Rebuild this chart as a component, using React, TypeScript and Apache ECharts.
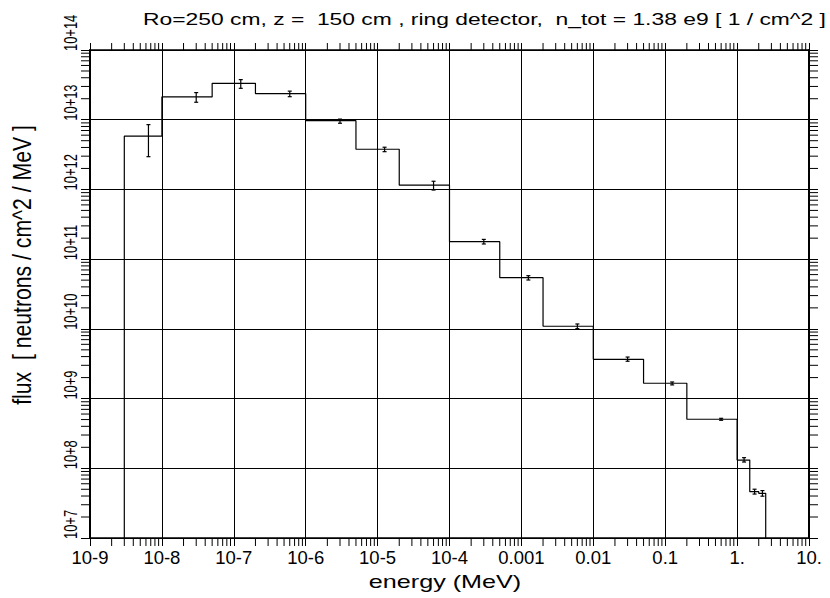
import React, { useEffect, useRef } from 'react';
import * as echarts from 'echarts';

// Energy bin edges (MeV)
const binEdges = [3e-9, 1e-8, 5e-8, 2e-7, 1e-6, 5e-6, 2e-5, 1e-4, 5e-4, 2e-3, 1e-2, 5e-2, 0.2, 1.0, 1.5, 2.0, 2.5];
// Flux per bin (neutrons / cm^2 / MeV)
const flux = [5.8e12, 2.12e13, 3.33e13, 2.37e13, 9.7e12, 3.77e12, 1.15e12, 1.78e11, 5.42e10, 1.09e10, 3.66e9, 1.66e9, 5.05e8, 1.31e8, 4.62e7, 4.38e7];
// Error bar lower / upper bounds
const fluxLow = [2.95e12, 1.78e13, 2.82e13, 2.14e13, 8.9e12, 3.48e12, 9.8e11, 1.65e11, 5.02e10, 1.007e10, 3.43e9, 1.57e9, 4.88e8, 1.23e8, 4.27e7, 3.98e7];
const fluxHigh = [8.5e12, 2.45e13, 3.76e13, 2.57e13, 1.02e13, 4.03e12, 1.31e12, 1.92e11, 5.79e10, 1.175e10, 3.94e9, 1.73e9, 5.21e8, 1.42e8, 5.01e7, 4.79e7];

const xTickLabels = ['10-9', '10-8', '10-7', '10-6', '10-5', '10-4', '0.001', '0.01', '0.1', '1.', '10.'];
const yTickLabels = ['10+7', '10+8', '10+9', '10+10', '10+11', '10+12', '10+13', '10+14'];

const titleText = 'Ro=250 cm, z =  150 cm , ring detector,  n_tot = 1.38 e9 [ 1 / cm^2 ]';
const xName = 'energy (MeV)';
const yName = 'flux  [ neutrons / cm^2 / MeV ]';

const X_MIN = -9;
const X_MAX = 1;
const Y_MIN = 7;
const Y_MAX = 14;

const FONT = '"Liberation Sans", Arial, Helvetica, sans-serif';

export default function App() {
  const ref = useRef<HTMLDivElement>(null);

  useEffect(() => {
    const chart = echarts.init(ref.current as HTMLDivElement, null, { renderer: 'svg' });
    const L = Math.log10;

    const steps: number[][] = [];
    steps.push([L(binEdges[0]), Y_MIN]);
    for (let i = 0; i < flux.length; i++) {
      steps.push([L(binEdges[i]), L(flux[i])]);
      steps.push([L(binEdges[i + 1]), L(flux[i])]);
    }
    steps.push([L(binEdges[binEdges.length - 1]), Y_MIN]);

    const errData = flux.map((_, i) => [
      L((binEdges[i] + binEdges[i + 1]) / 2),
      L(fluxLow[i]),
      L(fluxHigh[i]),
    ]);

    const xMinor: number[][] = [];
    for (let d = X_MIN; d < X_MAX; d++) {
      for (let k = 2; k <= 9; k++) xMinor.push([d + L(k), Y_MIN]);
    }
    const yMinor: number[][] = [];
    for (let d = Y_MIN; d < Y_MAX; d++) {
      for (let k = 2; k <= 9; k++) yMinor.push([X_MIN, d + L(k)]);
    }
    const yLabelData = yTickLabels.map((_, i) => [X_MIN, Y_MIN + i]);

    const tickStyle = { stroke: '#000', lineWidth: 1 };

    const option: any = {
      animation: false,
      backgroundColor: '#fff',
      textStyle: { fontFamily: FONT, color: '#000' },
      grid: { left: 90, right: 21, top: 50, bottom: 60, containLabel: false, outerBoundsMode: 'none' },
      xAxis: [
        {
          type: 'value',
          position: 'bottom',
          min: X_MIN,
          max: X_MAX,
          interval: 1,
          axisLine: { show: true, onZero: false, lineStyle: { color: '#000', width: 1.5 } },
          axisTick: { show: true, inside: false, length: 8, lineStyle: { color: '#000', width: 1 } },
          axisLabel: {
            show: true,
            margin: 10,
            fontSize: 18.5,
            fontFamily: FONT,
            color: '#000',
            formatter: (v: number) => xTickLabels[Math.round(v - X_MIN)] ?? '',
          },
          splitLine: { show: true, lineStyle: { color: '#000', width: 1 } },
        },
        {
          type: 'value',
          position: 'top',
          min: X_MIN,
          max: X_MAX,
          interval: 1,
          axisLine: { show: true, onZero: false, lineStyle: { color: '#000', width: 1.5 } },
          axisTick: { show: true, inside: false, length: 7, lineStyle: { color: '#000', width: 1 } },
          axisLabel: { show: false },
          splitLine: { show: false },
        },
      ],
      yAxis: [
        {
          type: 'value',
          position: 'left',
          min: Y_MIN,
          max: Y_MAX,
          interval: 1,
          axisLine: { show: true, onZero: false, lineStyle: { color: '#000', width: 2 } },
          axisTick: { show: true, inside: false, length: 9, lineStyle: { color: '#000', width: 1 } },
          axisLabel: { show: false },
          splitLine: { show: true, lineStyle: { color: '#000', width: 1 } },
        },
        {
          type: 'value',
          position: 'right',
          min: Y_MIN,
          max: Y_MAX,
          interval: 1,
          axisLine: { show: true, onZero: false, lineStyle: { color: '#000', width: 2 } },
          axisTick: { show: true, inside: false, length: 9, lineStyle: { color: '#000', width: 1 } },
          axisLabel: { show: false },
          splitLine: { show: false },
        },
      ],
      graphic: [
        {
          type: 'text',
          x: 143,
          y: 19,
          scaleX: 1.345,
          style: { text: titleText, fontSize: 17, fontFamily: FONT, fill: '#000', align: 'left', verticalAlign: 'middle' },
        },
        {
          type: 'text',
          x: 445,
          y: 582,
          scaleX: 1.4,
          style: { text: xName, fontSize: 18, fontFamily: FONT, fill: '#000', align: 'center', verticalAlign: 'middle' },
        },
        {
          type: 'text',
          x: 22,
          y: 265,
          rotation: Math.PI / 2,
          scaleX: 1.06,
          scaleY: 1.3,
          style: { text: yName, fontSize: 20, fontFamily: FONT, fill: '#000', align: 'center', verticalAlign: 'middle' },
        },
      ],
      series: [
        {
          type: 'line',
          xAxisIndex: 0,
          yAxisIndex: 0,
          data: steps,
          symbol: 'none',
          showSymbol: false,
          lineStyle: { color: '#000', width: 1.2 },
          z: 5,
          silent: true,
        },
        {
          type: 'custom',
          xAxisIndex: 0,
          yAxisIndex: 0,
          data: errData,
          encode: { x: 0, y: [1, 2] },
          clip: false,
          silent: true,
          z: 6,
          renderItem: (params: any, api: any) => {
            const x = api.value(0);
            const pLo = api.coord([x, api.value(1)]);
            const pHi = api.coord([x, api.value(2)]);
            const c = 2;
            const st = { stroke: '#000', lineWidth: 1.2 };
            return {
              type: 'group',
              children: [
                { type: 'line', shape: { x1: pLo[0], y1: pLo[1], x2: pHi[0], y2: pHi[1] }, style: st },
                { type: 'line', shape: { x1: pLo[0] - c, y1: pLo[1], x2: pLo[0] + c, y2: pLo[1] }, style: st },
                { type: 'line', shape: { x1: pHi[0] - c, y1: pHi[1], x2: pHi[0] + c, y2: pHi[1] }, style: st },
              ],
            };
          },
        },
        {
          type: 'custom',
          xAxisIndex: 0,
          yAxisIndex: 0,
          data: xMinor,
          encode: { x: 0, y: 1 },
          clip: false,
          silent: true,
          renderItem: (params: any, api: any) => {
            const cs = params.coordSys;
            const px = api.coord([api.value(0), Y_MIN])[0];
            return {
              type: 'group',
              children: [
                { type: 'line', shape: { x1: px, y1: cs.y + cs.height, x2: px, y2: cs.y + cs.height + 8 }, style: tickStyle },
                { type: 'line', shape: { x1: px, y1: cs.y, x2: px, y2: cs.y - 7 }, style: tickStyle },
              ],
            };
          },
        },
        {
          type: 'custom',
          xAxisIndex: 0,
          yAxisIndex: 0,
          data: yMinor,
          encode: { x: 0, y: 1 },
          clip: false,
          silent: true,
          renderItem: (params: any, api: any) => {
            const cs = params.coordSys;
            const py = api.coord([X_MIN, api.value(1)])[1];
            return {
              type: 'group',
              children: [
                { type: 'line', shape: { x1: cs.x - 9, y1: py, x2: cs.x, y2: py }, style: tickStyle },
                { type: 'line', shape: { x1: cs.x + cs.width, y1: py, x2: cs.x + cs.width + 9, y2: py }, style: tickStyle },
              ],
            };
          },
        },
        {
          // y-axis tick labels (rotated, drawn at the axis scale positions)
          type: 'custom',
          xAxisIndex: 0,
          yAxisIndex: 0,
          data: yLabelData,
          encode: { x: 0, y: 1 },
          clip: false,
          silent: true,
          renderItem: (params: any, api: any) => {
            const cs = params.coordSys;
            const py = api.coord([X_MIN, api.value(1)])[1];
            return {
              type: 'text',
              x: cs.x - 11,
              y: py + 1,
              rotation: Math.PI / 2,
              scaleX: 0.68,
              style: {
                text: yTickLabels[params.dataIndex],
                fontSize: 19,
                fontFamily: FONT,
                fill: '#000',
                align: 'left',
                verticalAlign: 'bottom',
              },
            };
          },
        },
      ],
    };

    chart.setOption(option);
    return () => {
      chart.dispose();
    };
  }, []);

  return <div ref={ref} style={{ position: 'fixed', left: 0, top: 0, width: 830, height: 598 }} />;
}
